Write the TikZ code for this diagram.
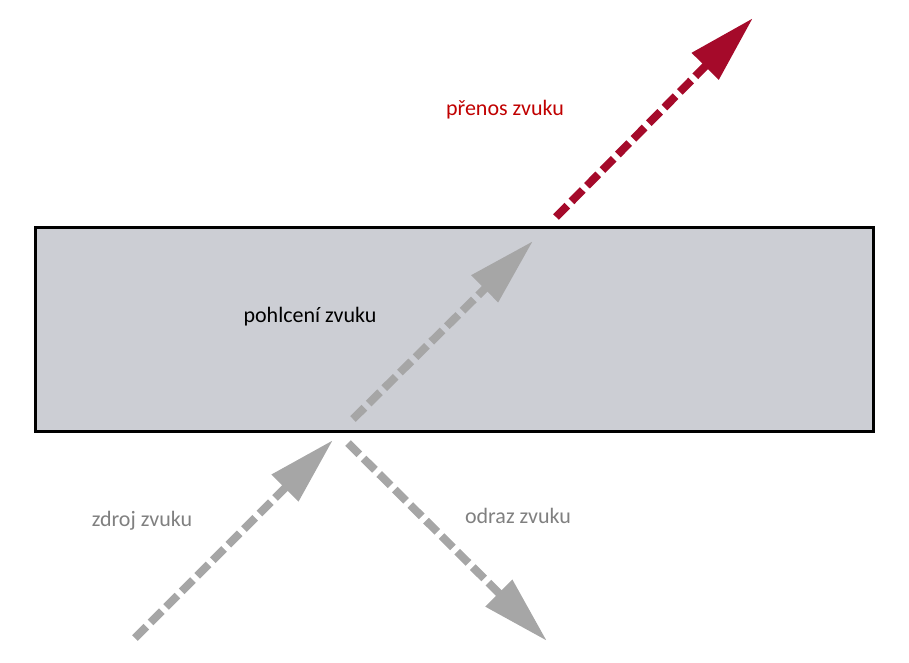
\documentclass[tikz,border=0pt]{standalone}
\usepackage{fontspec}
\setmainfont{Carlito}
\usetikzlibrary{arrows.meta}
\usetikzlibrary{positioning}

\definecolor{wallgray}{RGB}{204,206,212}
\definecolor{wavegray}{RGB}{166,166,166}
\definecolor{wavered}{RGB}{165,10,42}
\definecolor{textred}{RGB}{192,0,0}
\definecolor{textgray}{RGB}{128,128,128}

\begin{document}
\begin{tikzpicture}[
    x=1pt, y=-1pt,
    font=\fontsize{22}{26}\selectfont,
    wall/.style={rectangle, draw=black, line width=3pt, fill=wallgray, inner sep=+0pt, minimum width=838pt, minimum height=204pt},
    wave/.style={line width=8pt, dash pattern=on 16pt off 6pt, -{Triangle[length=68pt, width=36pt]}},
    label/.style={inner sep=+0pt, anchor=center}
    ]
\useasboundingbox (0,0) rectangle (909,662);

\node[wall] (wall) at (454,329) {};

\coordinate (srcA) at (135,638);
\coordinate (srcB) at (333,440);
\coordinate (refA) at (348,443);
\coordinate (refB) at (547,641);
\coordinate (absA) at (353,419);
\coordinate (absB) at (533,241);
\coordinate (trnA) at (556,217);
\coordinate (trnB) at (753,18);

\draw[wave, wavegray] (srcA) -- (srcB);
\draw[wave, wavegray] (refA) -- (refB);
\draw[wave, wavegray] (absA) -- (absB);
\draw[wave, wavered]  (trnA) -- (trnB);

\node[label, textred]  (trn) at (505,110) {přenos zvuku};
\node[label]           (abs) at (310,317) {pohlcení zvuku};
\node[label, textgray] (src) at (142,521) {zdroj zvuku};
\node[label, textgray] (ref) at (518,516) {odraz zvuku};

\end{tikzpicture}
\end{document}
